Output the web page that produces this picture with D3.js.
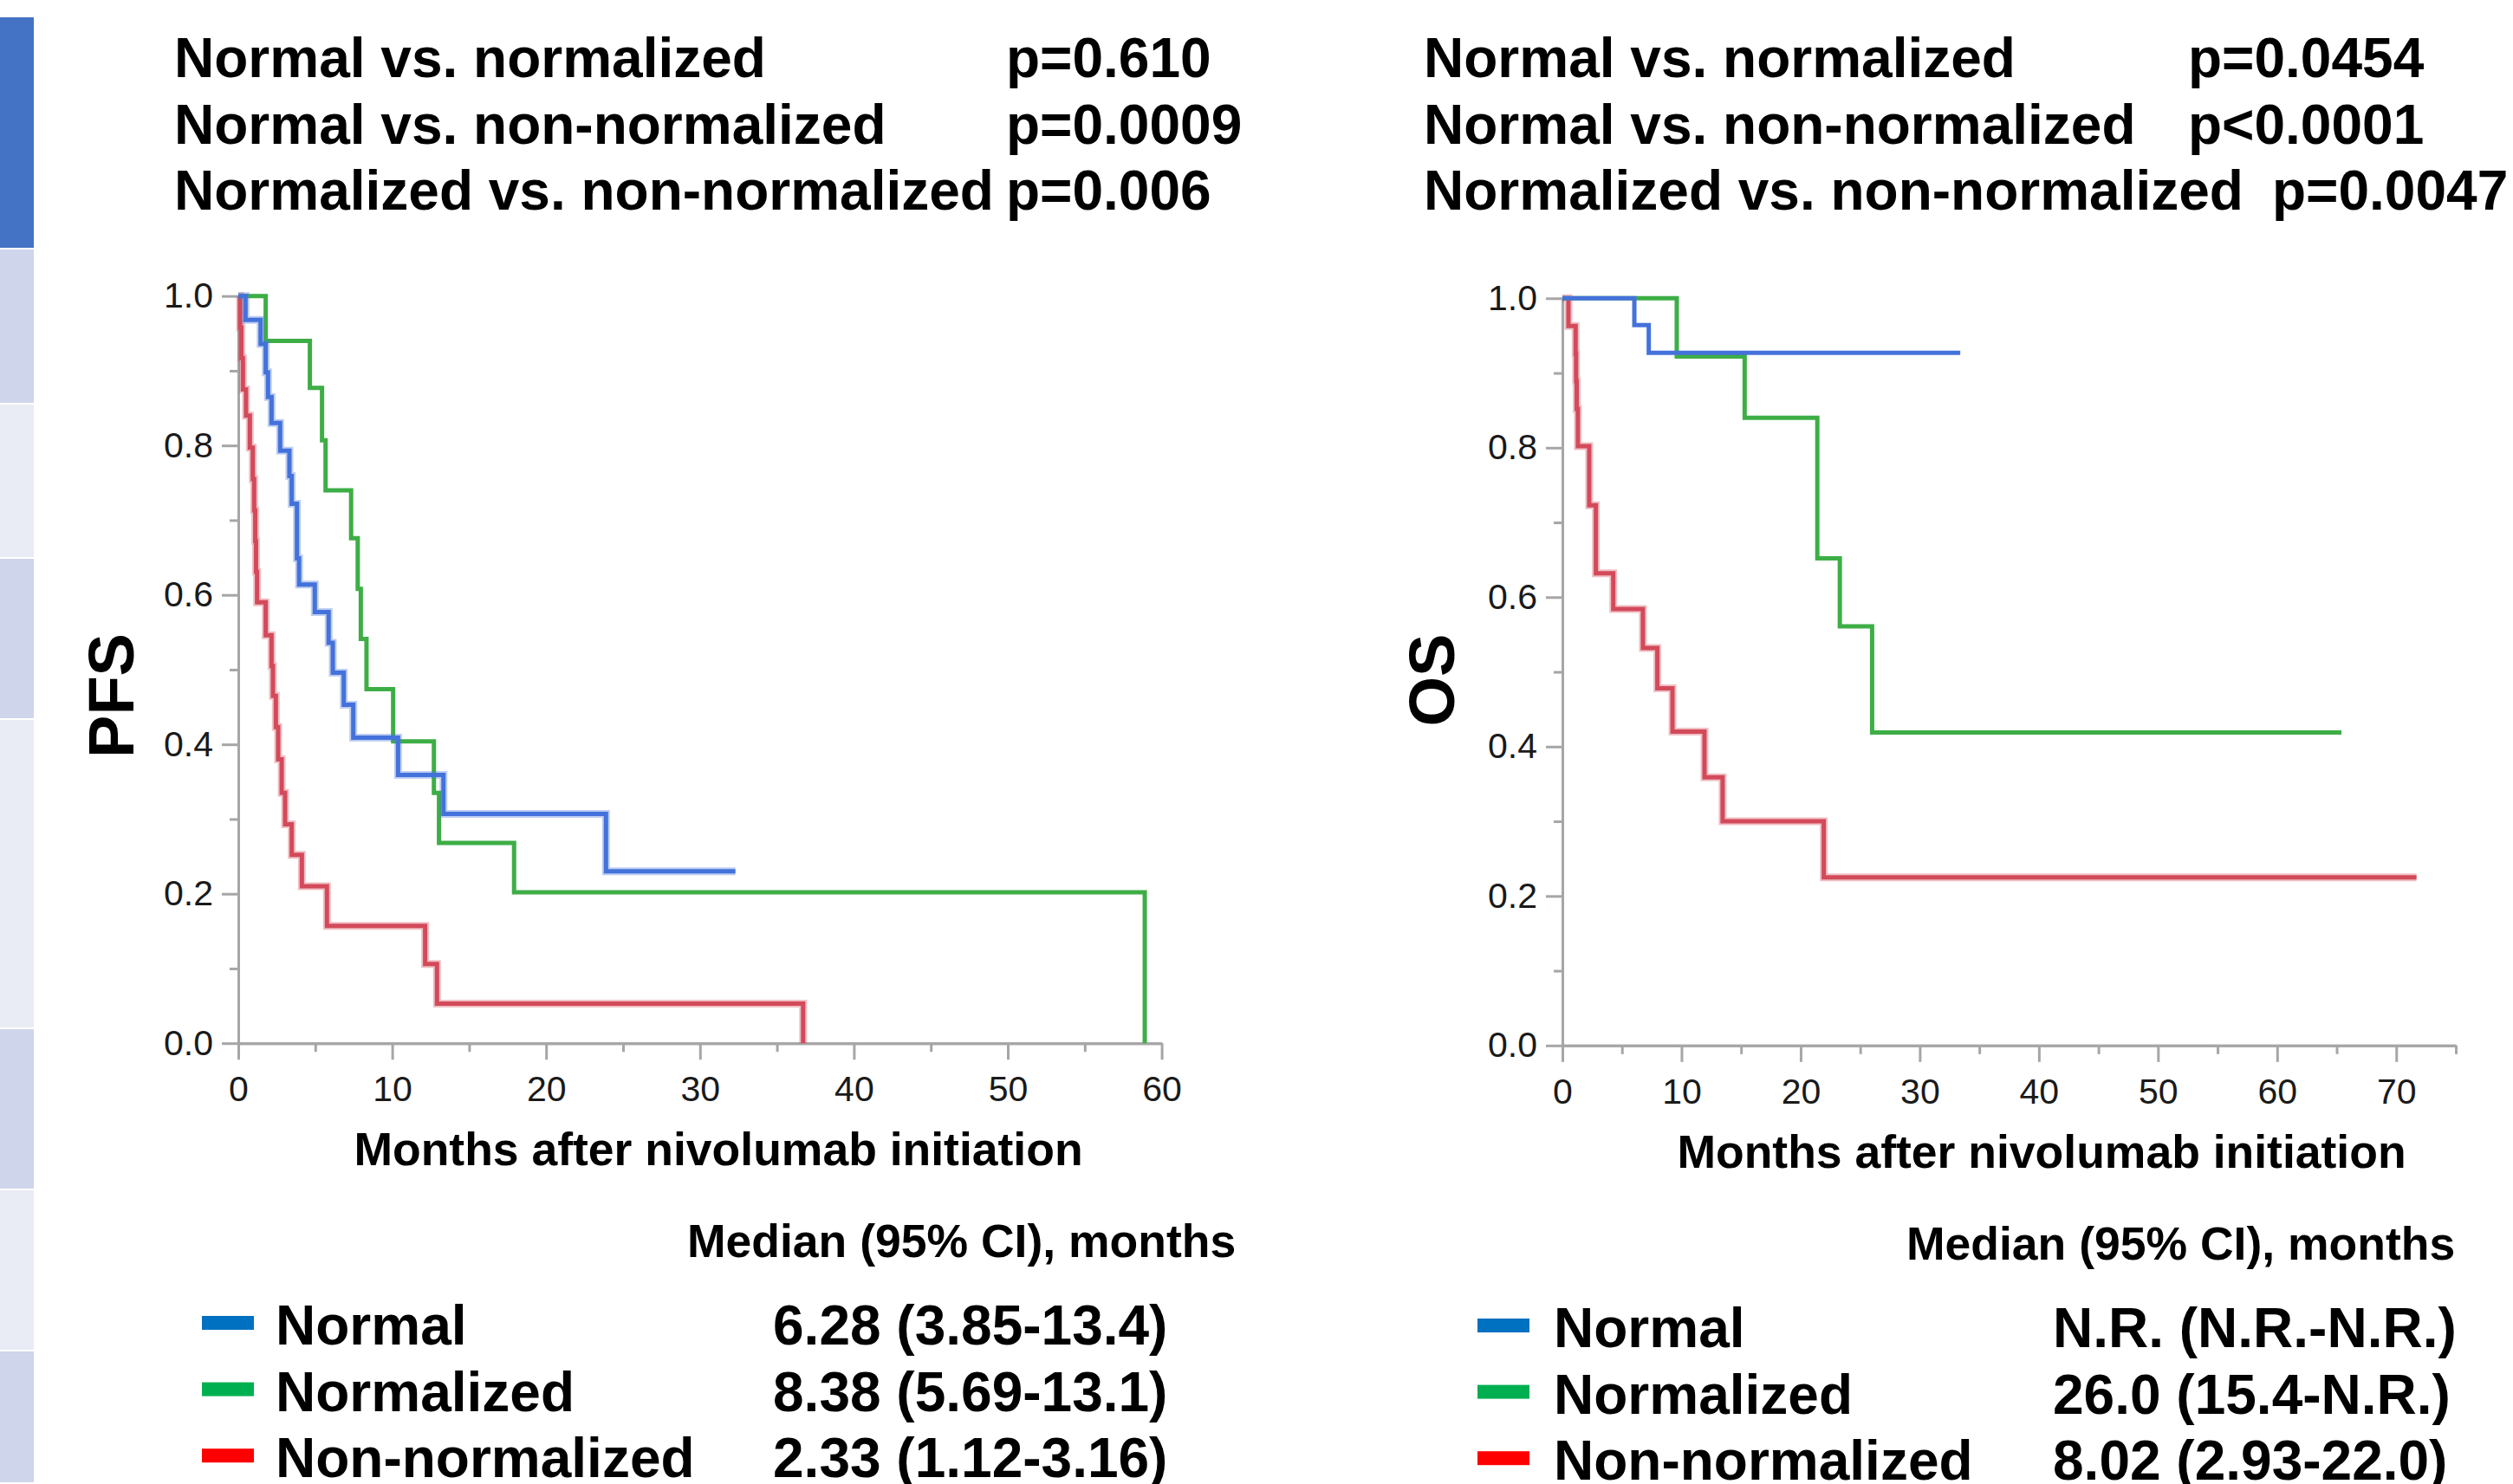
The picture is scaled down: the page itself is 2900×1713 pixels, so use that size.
<!DOCTYPE html>
<html>
<head>
<meta charset="utf-8">
<script src="https://cdn.jsdelivr.net/npm/d3@7"></script>
<style>
  body { margin: 0; background: #fff; }
  svg { display: block; font-family: "Liberation Sans", Arial, sans-serif; }
</style>
</head>
<body>
<div id="chart"></div>
<script>
// Datos: [meses, supervivencia]

const groups = ["Normal", "Normalized", "Non-normalized"];
const lineColors = ["#4472DB", "#3DAE46", "#D34A5A"];
const swatchColors = ["#0070C0", "#00B050", "#FF0000"];

const comparisons = ["Normal vs. normalized", "Normal vs. non-normalized", "Normalized vs. non-normalized"];
const pfsPValues = ["p=0.610", "p=0.0009", "p=0.006"];
const osPValues = ["p=0.0454", "p<0.0001", "p=0.0047"];

const pfsMedians = ["6.28 (3.85-13.4)", "8.38 (5.69-13.1)", "2.33 (1.12-3.16)"];
const osMedians = ["N.R. (N.R.-N.R.)", "26.0 (15.4-N.R.)", "8.02 (2.93-22.0)"];

const yTicks = [0, 0.2, 0.4, 0.6, 0.8, 1.0];
const yMinorTicks = [0.1, 0.3, 0.5, 0.7, 0.9];

// PFS
const pfsNormal = [[0, 1], [0.47, 0.968], [1.45, 0.936], [1.78, 0.898], [1.93, 0.865], [2.16, 0.83],
    [2.72, 0.793], [3.32, 0.759], [3.47, 0.722], [3.81, 0.649], [3.95, 0.614], [4.97, 0.577],
    [5.87, 0.536], [6.14, 0.496], [6.85, 0.453], [7.47, 0.409], [10.38, 0.359], [13.33, 0.307],
    [23.89, 0.23], [32.3, 0.23]];
const pfsNormalized = [[0, 1], [1.78, 0.94], [4.65, 0.877], [5.44, 0.807], [5.67, 0.74], [7.33, 0.676],
    [7.76, 0.608], [7.96, 0.541], [8.33, 0.474], [10.06, 0.404], [12.71, 0.335], [13.04, 0.268],
    [17.92, 0.202], [58.9, 0]];
const pfsNonNormalized = [[0, 1], [0.12, 0.958], [0.2, 0.917], [0.3, 0.875], [0.5, 0.84], [0.75, 0.797],
    [0.94, 0.755], [1.03, 0.713], [1.1, 0.672], [1.15, 0.631], [1.22, 0.59], [1.78, 0.546],
    [2.16, 0.505], [2.25, 0.465], [2.44, 0.423], [2.59, 0.38], [2.82, 0.335], [3.04, 0.293],
    [3.47, 0.252], [4.13, 0.21], [5.76, 0.157], [12.14, 0.106], [12.91, 0.053], [36.7, 0]];

// OS
const osNormal = [[0, 1], [6.04, 0.964], [7.25, 0.927], [33.4, 0.927]];
const osNormalized = [[0, 1], [9.6, 0.922], [15.3, 0.84], [21.4, 0.652], [23.29, 0.561], [26.0, 0.419],
    [65.4, 0.419]];
const osNonNormalized = [[0, 1], [0.51, 0.963], [1.11, 0.926], [1.15, 0.889], [1.2, 0.852], [1.3, 0.802],
    [2.25, 0.723], [2.81, 0.632], [4.27, 0.584], [6.76, 0.532], [7.97, 0.478], [9.24, 0.42],
    [11.93, 0.359], [13.45, 0.3], [21.94, 0.225], [71.7, 0.225]];

// Franja lateral de la diapositiva
const stripEdges = [20, 288, 467, 645, 831, 1188, 1374, 1560, 1713];
const stripColors = ["#4472C4", "#CFD5EA", "#E9EBF5", "#CFD5EA", "#E9EBF5", "#CFD5EA", "#E9EBF5", "#CFD5EA"];

const WIDTH = 2900;
const HEIGHT = 1713;

const PANELS = [
    {
        curves: [pfsNormal, pfsNormalized, pfsNonNormalized],
        halo: [true, false, true],
        yLabel: "PFS",
        pValues: pfsPValues,
        medians: pfsMedians,
        xMax: 60,
        xRange: [275, 1340.6],
        yRange: [1204.2, 341.7],
        headX: 201, pX: [1161, 1161, 1161],
        yLabelPos: [154, 803],
        xTitlePos: [829, 1345],
        legHead: [793, 1451],
        legX: 233, legTextX: 318, legValX: 892, legY: 1552,
    },
    {
        curves: [osNormal, osNormalized, osNonNormalized],
        halo: [false, false, true],
        yLabel: "OS",
        pValues: osPValues,
        medians: osMedians,
        xMax: 75,
        xRange: [1803, 2834],
        yRange: [1206.8, 344.3],
        headX: 1643, pX: [2525, 2525, 2622],
        yLabelPos: [1678, 785],
        xTitlePos: [2356, 1348],
        legHead: [2200, 1454],
        legX: 1705, legTextX: 1793, legValX: 2369, legY: 1555,
    },
];

const svg = d3.select("#chart")
    .append("svg")
    .attr("width", WIDTH)
    .attr("height", HEIGHT);

svg.selectAll(".strip")
    .data(stripColors)
    .join("rect")
    .attr("class", "strip")
    .attr("x", 0)
    .attr("y", (d, i) => stripEdges[i])
    .attr("width", 39)
    .attr("height", (d, i) => stripEdges[i + 1] - stripEdges[i] - 2)
    .attr("fill", d => d);

function drawPanel(p) {
    const g = svg.append("g");

    const x = d3.scaleLinear().domain([0, p.xMax]).range(p.xRange);
    const y = d3.scaleLinear().domain([0, 1]).range(p.yRange);

    // encabezado con valores p
    const head = g.append("g").attr("font-weight", "bold").attr("font-size", 64);
    comparisons.forEach((c, i) => {
        head.append("text").attr("x", p.headX).attr("y", 89 + i * 76.5).text(c);
        head.append("text").attr("x", p.pX[i]).attr("y", 89 + i * 76.5).text(p.pValues[i]);
    });

    // ejes
    const yMinor = g.append("g")
        .attr("transform", `translate(${p.xRange[0]},0)`)
        .call(d3.axisLeft(y).tickValues(yMinorTicks).tickSize(10).tickSizeOuter(0).tickFormat(""));
    const yAxis = g.append("g")
        .attr("transform", `translate(${p.xRange[0]},0)`)
        .call(d3.axisLeft(y).tickValues(yTicks).tickSize(19).tickSizeOuter(0).tickPadding(10)
            .tickFormat(d3.format(".1f")));
    const xMinor = g.append("g")
        .attr("transform", `translate(0,${p.yRange[0]})`)
        .call(d3.axisBottom(x).tickValues(d3.range(5, p.xMax + 1, 10)).tickSize(10).tickSizeOuter(0).tickFormat(""));
    const xAxis = g.append("g")
        .attr("transform", `translate(0,${p.yRange[0]})`)
        .call(d3.axisBottom(x).tickValues(d3.range(0, p.xMax + 1, 10)).tickSize(19).tickSizeOuter(0).tickPadding(19));

    [yMinor, yAxis, xMinor, xAxis].forEach(a => {
        a.selectAll("path, line").attr("stroke", "#A6A6A6").attr("stroke-width", 3);
        a.selectAll("text")
            .attr("font-family", "'Liberation Sans', Arial, sans-serif")
            .attr("font-size", 41)
            .attr("fill", "#1a1a1a");
    });

    // curvas Kaplan-Meier
    const line = d3.line()
        .x(d => x(d[0]))
        .y(d => y(d[1]))
        .curve(d3.curveStepAfter);

    const order = [2, 1, 0];
    order.forEach(i => {
        if (p.halo[i]) {
            g.append("path")
                .attr("d", line(p.curves[i]))
                .attr("fill", "none")
                .attr("stroke", lineColors[i])
                .attr("stroke-opacity", 0.35)
                .attr("stroke-width", 9);
        }
        g.append("path")
            .attr("d", line(p.curves[i]))
            .attr("fill", "none")
            .attr("stroke", lineColors[i])
            .attr("stroke-width", 5);
    });

    // titulos de ejes
    g.append("text")
        .attr("transform", `translate(${p.yLabelPos[0]},${p.yLabelPos[1]}) rotate(-90)`)
        .attr("text-anchor", "middle")
        .attr("font-weight", "bold")
        .attr("font-size", 74)
        .text(p.yLabel);

    g.append("text")
        .attr("x", p.xTitlePos[0])
        .attr("y", p.xTitlePos[1])
        .attr("text-anchor", "middle")
        .attr("font-weight", "bold")
        .attr("font-size", 53.5)
        .text("Months after nivolumab initiation");

    // leyenda con medianas
    g.append("text")
        .attr("x", p.legHead[0])
        .attr("y", p.legHead[1])
        .attr("font-weight", "bold")
        .attr("font-size", 53.5)
        .text("Median (95% CI), months");

    const rows = g.selectAll(".leg")
        .data(groups)
        .join("g")
        .attr("class", "leg")
        .attr("transform", (d, i) => `translate(0,${p.legY + i * 76.6})`);

    rows.append("rect")
        .attr("x", p.legX)
        .attr("y", -33)
        .attr("width", 60)
        .attr("height", 16)
        .attr("fill", (d, i) => swatchColors[i]);

    rows.append("text")
        .attr("x", p.legTextX)
        .attr("font-weight", "bold")
        .attr("font-size", 64)
        .text(d => d);

    rows.append("text")
        .attr("x", p.legValX)
        .attr("font-weight", "bold")
        .attr("font-size", 64)
        .text((d, i) => p.medians[i]);
}

PANELS.forEach(drawPanel);
</script>
</body>
</html>
